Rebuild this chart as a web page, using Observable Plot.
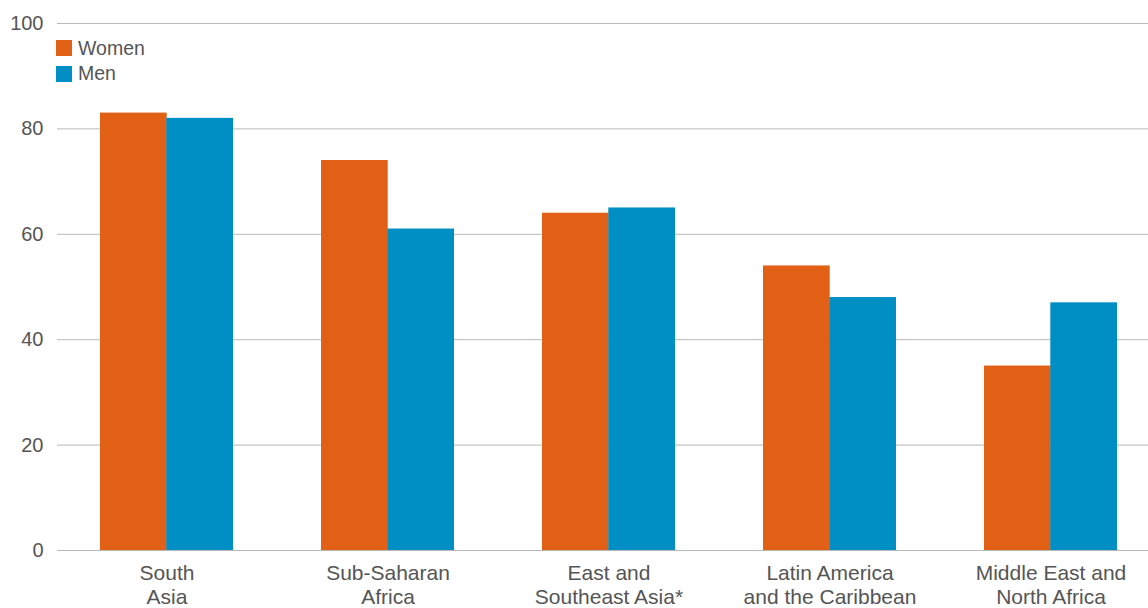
<!DOCTYPE html>
<html><head><meta charset="utf-8">
<script src="https://cdn.jsdelivr.net/npm/d3@7"></script>
<script src="https://cdn.jsdelivr.net/npm/@observablehq/plot@0.6"></script>
<style>
body{margin:0;background:#fff;font-family:"Liberation Sans",Arial,sans-serif;}
#wrap{position:relative;width:1148px;height:608px;}
.legend{position:absolute;left:56px;top:35.5px;font-size:19.5px;color:#555;}
.item{display:flex;align-items:center;height:25.5px;}
.sw{width:16px;height:16px;margin-right:6px;}
</style></head><body><div id="wrap"></div><script>
const regions = ["South\nAsia", "Sub-Saharan\nAfrica", "East and\nSoutheast Asia*", "Latin America\nand the Caribbean", "Middle East and\nNorth Africa"];
const women = [83, 74, 64, 54, 35];
const men = [82, 61, 65, 48, 47];
const seriesNames = ["Women", "Men"];
const colors = ["#E16016", "#008FC4"];
const yTicks = [0, 20, 40, 60, 80, 100];

const rows = regions.flatMap((r, i) => [
  {region: r, sex: seriesNames[0], value: women[i]},
  {region: r, sex: seriesNames[1], value: men[i]}
]);

const xRange = [56, 1161];
const bw = d3.scaleBand().domain(regions).range(xRange).paddingInner(0.4).paddingOuter(0.2).bandwidth();
const half = bw / 2;

const chart = Plot.plot({
  width: 1148, height: 608,
  marginTop: 23, marginBottom: 58, marginLeft: 57, marginRight: 0,
  style: {fontFamily: '"Liberation Sans", Arial, sans-serif', fontSize: "18px", color: "#555", background: "#fff"},
  x: {domain: regions, range: xRange, paddingInner: 0.4, paddingOuter: 0.2, label: null},
  y: {domain: [0, 100], label: null},
  color: {domain: seriesNames, range: colors},
  marks: [
    Plot.ruleY(yTicks, {stroke: "#b8b8b8", strokeWidth: 1}),
    Plot.barY(rows.filter(d => d.sex === seriesNames[0]), {x: "region", y: "value", fill: "sex", insetRight: half}),
    Plot.barY(rows.filter(d => d.sex === seriesNames[1]), {x: "region", y: "value", fill: "sex", insetLeft: half}),
    Plot.axisY({ticks: yTicks, tickSize: 0, tickPadding: 14, fontSize: 20, label: null}),
    Plot.axisX({tickSize: 0, tickPadding: 12.5, fontSize: 21, lineHeight: 1.13, label: null})
  ]
});
const wrap = document.getElementById("wrap");
wrap.appendChild(chart);
const legend = document.createElement("div");
legend.className = "legend";
seriesNames.forEach((n, i) => {
  const it = document.createElement("div");
  it.className = "item";
  const sw = document.createElement("span");
  sw.className = "sw";
  sw.style.background = colors[i];
  const t = document.createElement("span");
  t.textContent = n;
  it.appendChild(sw); it.appendChild(t);
  legend.appendChild(it);
});
wrap.appendChild(legend);
</script></body></html>
